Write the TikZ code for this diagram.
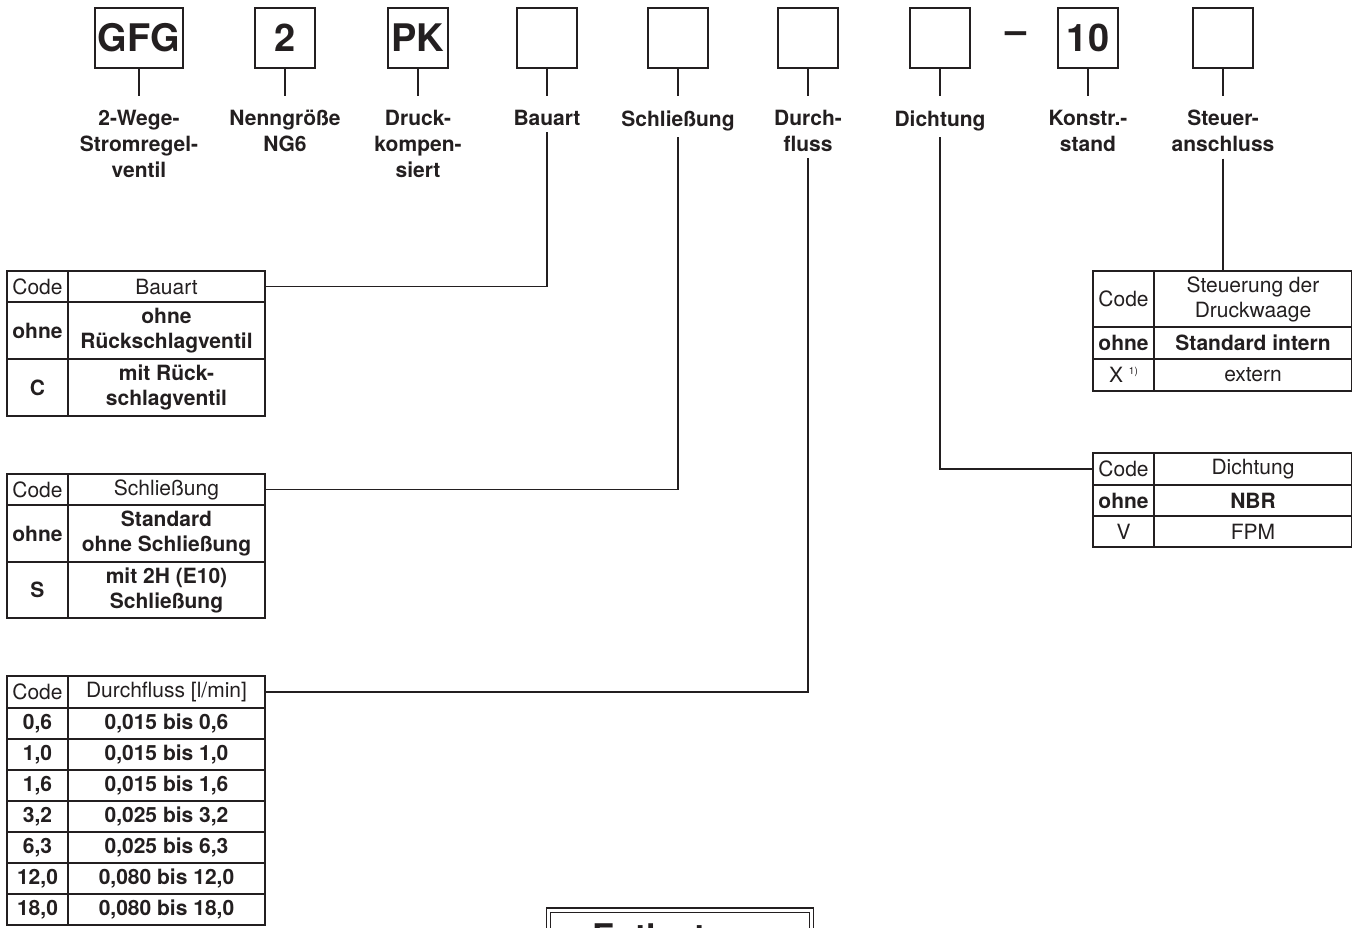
\documentclass[tikz,border=0pt]{standalone}
\usepackage{fontspec}
\setmainfont{TeX Gyre Heros}
\usepackage{xcolor}
\definecolor{typeink}{RGB}{35,31,32}
\usepackage{tikz}

\begin{document}
\begin{tikzpicture}[
    x=0.5pt, y=-0.5pt,
    every node/.style={text=typeink},
    line/.style={typeink, line width=0.6pt},
    typebox/.style={draw=typeink, line width=0.7pt, minimum width=30pt, minimum height=30pt,
                    inner sep=0pt, font=\fontsize{19}{21}\selectfont\bfseries},
    dashsign/.style={inner sep=0pt, font=\fontsize{19}{21}\selectfont\bfseries},
    fieldlbl/.style={anchor=north, align=center, inner sep=1pt,
                     font=\fontsize{10.5}{13}\selectfont\bfseries},
    stub/.style={line, shorten >=6pt},
    leader/.style={line, shorten <=2pt},
    cell/.style={draw=typeink, line width=0.7pt, inner sep=0pt, align=center,
                 font=\fontsize{10.5}{12.5}\selectfont},
    codecell/.style={cell, minimum width=30.5pt},
    desccell/.style={cell, minimum width=98.5pt},
    hi/.style={font=\fontsize{10.5}{12.5}\selectfont\bfseries},
    hintbox/.style={draw=typeink, line width=0.6pt, double, double distance=1.5pt,
                    inner ysep=7pt, anchor=north, font=\fontsize{17}{20}\selectfont\bfseries},
  ]
    \useasboundingbox (0,0) rectangle (1355,927);

    % --- Type code boxes ---
    \node[typebox, minimum width=44pt] (gfg) at (139, 38) {GFG};
    \node[typebox] (ng)    at (285, 38)  {2};
    \node[typebox] (pk)    at (418, 38)  {PK};
    \node[typebox] (bau)   at (547, 38)  {};
    \node[typebox] (schl)  at (678, 38)  {};
    \node[typebox] (durch) at (808, 38)  {};
    \node[typebox] (dicht) at (940, 38)  {};
    \node[dashsign] (dash) at (1016, 38) {–};
    \node[typebox] (kon)   at (1088, 38) {10};
    \node[typebox] (steu)  at (1223, 38) {};

    % --- Field labels ---
    \node[fieldlbl] (gfg-l)   at (139, 108)  {2-Wege-\\Stromregel-\\ventil};
    \node[fieldlbl] (ng-l)    at (285, 108)  {Nenngröße\\NG6};
    \node[fieldlbl] (pk-l)    at (418, 108)  {Druck-\\kompen-\\siert};
    \node[fieldlbl] (bau-l)   at (547, 108)  {Bauart};
    \node[fieldlbl] (schl-l)  at (678, 108)  {Schließung};
    \node[fieldlbl] (durch-l) at (808, 108)  {Durch-\\fluss};
    \node[fieldlbl] (dicht-l) at (940, 108)  {Dichtung};
    \node[fieldlbl] (kon-l)   at (1088, 108) {Konstr.-\\stand};
    \node[fieldlbl] (steu-l)  at (1223, 108) {Steuer-\\anschluss};

    \foreach \fld in {gfg, ng, pk, bau, schl, durch, dicht, kon, steu}
      \draw[stub] (\fld.south) -- (\fld-l.north);

    % --- Bauart ---
    \node[codecell, minimum height=15.5pt] (ba-c0) at (37.5, 286.5) {Code};
    \node[desccell, minimum height=15.5pt] (ba-d0) at (166.5, 286.5) {Bauart};
    \node[codecell, hi, minimum height=28.5pt] (ba-c1) at (37.5, 330.5) {ohne};
    \node[desccell, hi, minimum height=28.5pt] (ba-d1) at (166.5, 330.5) {ohne\\Rückschlagventil};
    \node[codecell, hi, minimum height=28.5pt] (ba-c2) at (37.5, 387.5) {C};
    \node[desccell, hi, minimum height=28.5pt] (ba-d2) at (166.5, 387.5) {mit Rück-\\schlagventil};

    % --- Schliessung ---
    \node[codecell, minimum height=15.5pt] (sl-c0) at (37.5, 489.5) {Code};
    \node[desccell, minimum height=15.5pt] (sl-d0) at (166.5, 489.5) {Schließung};
    \node[codecell, hi, minimum height=28pt] (sl-c1) at (37.5, 533.5) {ohne};
    \node[desccell, hi, minimum height=28pt] (sl-d1) at (166.5, 533.5) {Standard\\ohne Schließung};
    \node[codecell, hi, minimum height=28pt] (sl-c2) at (37.5, 590) {S};
    \node[desccell, hi, minimum height=28pt] (sl-d2) at (166.5, 590) {mit 2H (E10)\\Schließung};

    % --- Durchfluss ---
    \node[codecell, minimum height=16pt] (df-c0) at (37.5, 692) {Code};
    \node[desccell, minimum height=16pt] (df-d0) at (166.5, 692) {Durchfluss [l/min]};
    \foreach \c/\r [count=\i] in {{0,6}/{0,015 bis 0,6}, {1,0}/{0,015 bis 1,0},
        {1,6}/{0,015 bis 1,6}, {3,2}/{0,025 bis 3,2}, {6,3}/{0,025 bis 6,3},
        {12,0}/{0,080 bis 12,0}, {18,0}/{0,080 bis 18,0}} {
      \node[codecell, hi, minimum height=15.5pt] (df-c\i) at (37.5, {692.5+31*\i}) {\c};
      \node[desccell, hi, minimum height=15.5pt] (df-d\i) at (166.5, {692.5+31*\i}) {\r};
    }

    % --- Steueranschluss ---
    \node[codecell, minimum height=28pt] (st-c0) at (1123.5, 299) {Code};
    \node[desccell, minimum height=28pt] (st-d0) at (1253, 299) {Steuerung der\\Druckwaage};
    \node[codecell, hi, minimum height=16pt] (st-c1) at (1123.5, 343) {ohne};
    \node[desccell, hi, minimum height=16pt] (st-d1) at (1253, 343) {Standard intern};
    \node[codecell, minimum height=16pt] (st-c2) at (1123.5, 375) {X \raisebox{0.7ex}{\fontsize{5}{6}\selectfont 1)}};
    \node[desccell, minimum height=16pt] (st-d2) at (1253, 375) {extern};

    % --- Dichtung ---
    \node[codecell, minimum height=16pt] (dt-c0) at (1123.5, 469) {Code};
    \node[desccell, minimum height=16pt] (dt-d0) at (1253, 469) {Dichtung};
    \node[codecell, hi, minimum height=15.5pt] (dt-c1) at (1123.5, 500.5) {ohne};
    \node[desccell, hi, minimum height=15.5pt] (dt-d1) at (1253, 500.5) {NBR};
    \node[codecell, minimum height=15.5pt] (dt-c2) at (1123.5, 531.5) {V};
    \node[desccell, minimum height=15.5pt] (dt-d2) at (1253, 531.5) {FPM};

    % --- Leaders to the tables ---
    \draw[leader] (bau-l.south) |- (ba-d0.east);
    \draw[leader] (schl-l.south) |- (sl-d0.east);
    \draw[leader] (durch-l.south) |- (df-d0.east);
    \draw[leader] (dicht-l.south) |- (dt-c0.west);
    \draw[leader] (steu-l.south) -- (steu-l.south |- st-d0.north);

    % --- Hint box (cut off at the page edge) ---
    \node[hintbox, minimum width=131.3pt] (hint) at (680, 909.4) {Entlastung};
\end{tikzpicture}
\end{document}
